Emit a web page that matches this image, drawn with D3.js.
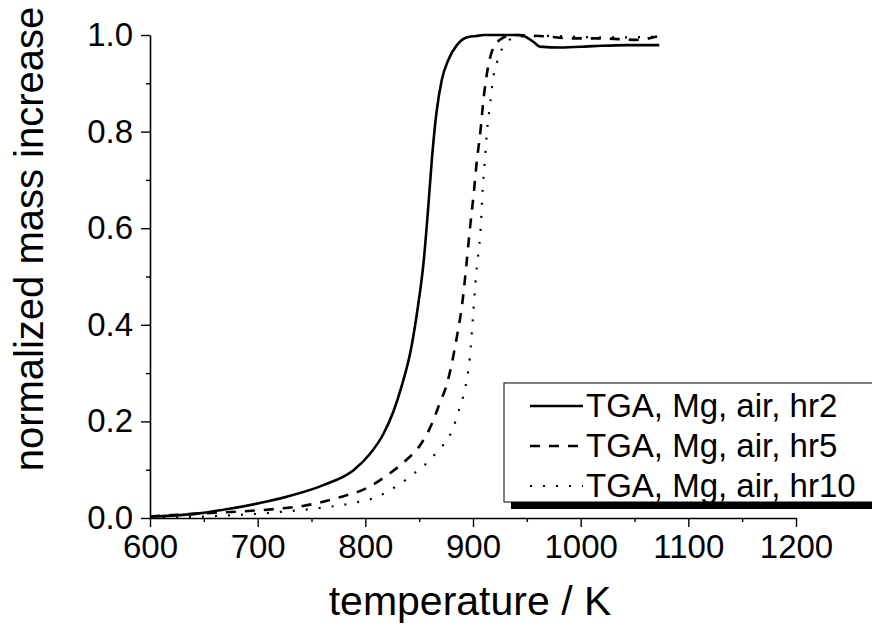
<!DOCTYPE html>
<html>
<head>
<meta charset="utf-8">
<script src="https://cdn.jsdelivr.net/npm/d3@7"></script>
<style>
  body { margin: 0; background: #fff; }
  svg { display: block; font-family: "Liberation Sans", Arial, sans-serif; }
</style>
</head>
<body>
<svg id="chart" width="872" height="632"></svg>
<script>
// values
const tempHr2 = [600, 620, 640, 671, 702, 727, 761, 789, 804, 817, 826, 834, 842, 849, 854, 858, 862, 866, 871, 877, 885, 894, 903, 910, 928, 941, 947, 956, 962, 981, 1012, 1043, 1073]
const massHr2 = [0.003, 0.005, 0.008, 0.018, 0.031, 0.044, 0.068, 0.099, 0.132, 0.175, 0.22, 0.275, 0.345, 0.44, 0.527, 0.631, 0.748, 0.838, 0.907, 0.948, 0.979, 0.995, 0.998, 1.0, 1.0, 1.0, 0.998, 0.986, 0.976, 0.974, 0.977, 0.979, 0.979]

const tempHr5 = [600, 621, 643, 680, 718, 742, 773, 804, 823, 838, 851, 862, 869, 876, 885, 890, 894, 897, 901, 903, 907, 910, 913, 917, 925, 937, 968, 990, 1018, 1052, 1071]
const massHr5 = [0.003, 0.006, 0.009, 0.013, 0.019, 0.025, 0.041, 0.065, 0.093, 0.12, 0.151, 0.196, 0.237, 0.279, 0.375, 0.444, 0.527, 0.596, 0.679, 0.727, 0.803, 0.872, 0.921, 0.962, 0.99, 1.0, 0.997, 0.993, 0.993, 0.99, 0.997]

const tempHr10 = [600, 649, 680, 718, 755, 786, 811, 829, 848, 860, 868, 876, 882, 886, 890, 893, 897, 900, 903, 907, 909, 911, 913, 916, 919, 922, 925, 931, 941, 970, 1000, 1040, 1073]
const massHr10 = [0.0, 0.003, 0.006, 0.012, 0.02, 0.03, 0.044, 0.066, 0.097, 0.12, 0.141, 0.162, 0.189, 0.217, 0.244, 0.272, 0.331, 0.417, 0.507, 0.596, 0.679, 0.741, 0.8, 0.859, 0.914, 0.941, 0.962, 0.983, 0.997, 0.998, 0.996, 0.995, 0.997]

const seriesNames = ["TGA, Mg, air, hr2", "TGA, Mg, air, hr5", "TGA, Mg, air, hr10"]
const xTicks = [600, 700, 800, 900, 1000, 1100, 1200]
const xMinor = [650, 750, 850, 950, 1050, 1150]
const yTicks = [0, 0.2, 0.4, 0.6, 0.8, 1.0]
const yMinor = [0.1, 0.3, 0.5, 0.7, 0.9]

const width = 872
const height = 632
const margin = {top: 35, right: 76, bottom: 114, left: 150}

const x = d3.scaleLinear()
    .domain([600, 1200])
    .range([margin.left, width - margin.right])

const y = d3.scaleLinear()
    .domain([0, 1])
    .range([height - margin.bottom, margin.top])

const svg = d3.select("#chart")

const series = [
  {name: seriesNames[0], t: tempHr2, m: massHr2, dash: null, w: 2.6},
  {name: seriesNames[1], t: tempHr5, m: massHr5, dash: "10,9", w: 2.6},
  {name: seriesNames[2], t: tempHr10, m: massHr10, dash: "2,11", w: 2.2}
]

const line = d3.line()
    .x(d => x(d[0]))
    .y(d => y(d[1]))
    .curve(d3.curveMonotoneX)

series.forEach(s => {
  svg.append("path")
    .datum(d3.zip(s.t, s.m))
    .attr("d", line)
    .attr("fill", "none")
    .attr("stroke", "#000")
    .attr("stroke-width", s.w)
    .attr("stroke-dasharray", s.dash)
})

// axes
const styleAxis = g => {
  g.select(".domain").attr("stroke-width", 1.6)
  g.selectAll(".tick line").attr("stroke-width", 1.4)
  g.selectAll("text").attr("font-size", 33).attr("fill", "#000")
    .attr("font-family", "Liberation Sans, Arial, sans-serif")
}

svg.append("g")
    .attr("transform", `translate(0,${y(0)})`)
    .call(d3.axisBottom(x).tickValues(xMinor).tickSize(4).tickFormat(""))
    .call(g => g.select(".domain").remove())
    .call(g => g.selectAll(".tick line").attr("stroke-width", 1.4))

svg.append("g")
    .attr("transform", `translate(0,${y(0)})`)
    .call(d3.axisBottom(x).tickValues(xTicks).tickSize(9).tickSizeOuter(0).tickPadding(8).tickFormat(d3.format("d")))
    .call(styleAxis)

svg.append("g")
    .attr("transform", `translate(${x(600)},0)`)
    .call(d3.axisLeft(y).tickValues(yMinor).tickSize(4).tickFormat(""))
    .call(g => g.select(".domain").remove())
    .call(g => g.selectAll(".tick line").attr("stroke-width", 1.4))

svg.append("g")
    .attr("transform", `translate(${x(600)},0)`)
    .call(d3.axisLeft(y).tickValues(yTicks).tickSize(9).tickSizeOuter(0).tickPadding(8).tickFormat(d3.format(".1f")))
    .call(styleAxis)

// axis titles
svg.append("text")
    .attr("x", 470)
    .attr("y", 615)
    .attr("text-anchor", "middle")
    .attr("font-size", 41)
    .text("temperature / K")

svg.append("text")
    .attr("transform", "translate(43,239) rotate(-90)")
    .attr("text-anchor", "middle")
    .attr("font-size", 40)
    .text("normalized mass increase")

// legend
const legend = svg.append("g")
const lx = 504, ly = 383, lw = 400, lh = 119

legend.append("rect")
    .attr("x", lx + 7).attr("y", ly + 7)
    .attr("width", lw).attr("height", lh)
    .attr("fill", "#000")

legend.append("rect")
    .attr("x", lx).attr("y", ly)
    .attr("width", lw).attr("height", lh)
    .attr("fill", "#fff")
    .attr("stroke", "#000")
    .attr("stroke-width", 1)

const rowY = [406, 446, 486]
series.forEach((s, i) => {
  legend.append("line")
    .attr("x1", 530).attr("x2", 583)
    .attr("y1", rowY[i]).attr("y2", rowY[i])
    .attr("stroke", "#000")
    .attr("stroke-width", s.w)
    .attr("stroke-dasharray", s.dash)
  legend.append("text")
    .attr("x", 586)
    .attr("y", rowY[i] + 11)
    .attr("font-size", 33)
    .text(s.name)
})
</script>
</body>
</html>
